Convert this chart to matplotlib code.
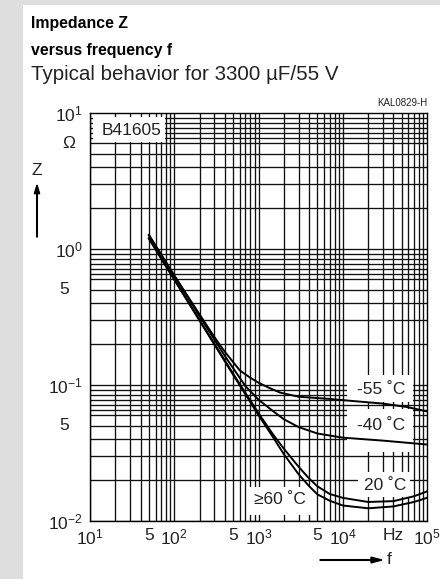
import matplotlib
matplotlib.use("Agg")
import matplotlib.pyplot as plt
from matplotlib.patches import Rectangle, FancyArrow
from matplotlib.ticker import NullLocator, FixedLocator, FixedFormatter

plt.rcParams["font.family"] = ["Liberation Sans", "DejaVu Sans"]
plt.rcParams["mathtext.fontset"] = "custom"
plt.rcParams["mathtext.rm"] = "Liberation Sans"
plt.rcParams["mathtext.it"] = "Liberation Sans"

# Werte (f in Hz, Z in Ohm)
f_m55 = [50, 100, 200, 300, 400, 600, 800, 1000, 1300, 1800, 2300, 3000, 7000, 11000, 30000, 57000, 100000]
z_m55 = [1.27, 0.64, 0.33, 0.225, 0.175, 0.128, 0.113, 0.104, 0.096, 0.088, 0.085, 0.082, 0.079, 0.077,
         0.073, 0.069, 0.064]

f_m40 = [50, 100, 200, 400, 550, 700, 1000, 1500, 2000, 3000, 5000, 10000, 30000, 100000]
z_m40 = [1.26, 0.635, 0.32, 0.163, 0.122, 0.098, 0.078, 0.064, 0.056, 0.049, 0.044, 0.041, 0.039, 0.0365]

f_20 = [50, 100, 200, 500, 1000, 1500, 2000, 3000, 4000, 5000, 7000, 10000, 20000, 40000, 70000, 100000]
z_20 = [1.2, 0.6, 0.3, 0.121, 0.062, 0.043, 0.034, 0.025, 0.0205, 0.018, 0.0158, 0.0148, 0.0138, 0.014,
        0.0152, 0.0165]

f_60 = [50, 100, 200, 500, 1000, 1500, 2000, 3000, 4000, 5000, 7000, 10000, 20000, 40000, 70000, 100000]
z_60 = [1.19, 0.595, 0.297, 0.119, 0.06, 0.041, 0.031, 0.022, 0.018, 0.0157, 0.0141, 0.013, 0.0124, 0.0128,
        0.0138, 0.0148]

xticks = [10, 50, 100, 500, 1000, 5000, 10000, 100000]
xlabels = ["$10^{1}$", "5", "$10^{2}$", "5", "$10^{3}$", "5", "$10^{4}$", "$10^{5}$"]
yticks = [0.01, 0.1, 1, 10]
ylabels = ["$10^{-2}$", "$10^{-1}$", "$10^{0}$", "$10^{1}$"]

W, H = 440, 579
L, R, T, B = 90, 427, 113, 521
TXT = "#222222"


def fx(px):
    return px / W


def fy(py):
    return 1 - py / H


def axx(px):
    return (px - L) / (R - L)


def axy(py):
    return (B - py) / (B - T)


fig = plt.figure(figsize=(W / 100, H / 100), dpi=100)
fig.patch.set_facecolor("#dedede")
fig.patches.append(Rectangle((fx(23), 0), 1, fy(5), transform=fig.transFigure,
                             facecolor="white", edgecolor="none", zorder=-5))

# Titel
fig.text(fx(31), fy(28), "Impedance Z", fontsize=11.4, fontweight="bold", va="baseline")
fig.text(fx(31), fy(55), "versus frequency f", fontsize=11.4, fontweight="bold", va="baseline")
fig.text(fx(31), fy(80), "Typical behavior for 3300 µF/55 V", fontsize=14.8, va="baseline", color=TXT)
fig.text(fx(427), fy(103), "KAL0829-H", fontsize=7, ha="right", va="center", color=TXT)

ax = fig.add_axes([fx(L), fy(B), (R - L) / W, (B - T) / H])
ax.set_facecolor("white")
ax.set_xscale("log")
ax.set_yscale("log")
ax.set_xlim(10, 1e5)
ax.set_ylim(0.01, 10)

# Gitter
for d in range(1, 5):
    for m in range(1, 10):
        ax.axvline(m * 10 ** d, color="#111111", lw=0.95, zorder=1)
for d in range(-2, 1):
    for m in [1, 2, 3, 4, 5, 6, 6.55, 7.13, 7.76, 8.44, 9.19]:
        ax.axhline(m * 10 ** d, color="#111111", lw=0.95, zorder=1)

# weisse Felder fuer Beschriftungen
for x0, y0, x1, y1 in [(93, 117, 165, 142), (347, 375, 413, 402), (347, 409, 413, 452),
                       (358, 472, 410, 497), (247, 487, 313, 515)]:
    ax.add_patch(Rectangle((axx(x0), axy(y1)), axx(x1) - axx(x0), axy(y0) - axy(y1),
                           transform=ax.transAxes, facecolor="white", edgecolor="none", zorder=2))

ax.plot(f_m55, z_m55, color="black", lw=1.4, zorder=3)
ax.plot(f_m40, z_m40, color="black", lw=1.4, zorder=3)
ax.plot(f_20, z_20, color="black", lw=1.4, zorder=3)
ax.plot(f_60, z_60, color="black", lw=1.4, zorder=3)

lab = dict(fontsize=12.5, ha="center", va="center", transform=ax.transAxes, zorder=4, color=TXT)
ax.text(axx(132), axy(130), "B41605", **lab)
ax.text(axx(381), axy(390), "-55 ˚C", **lab)
ax.text(axx(381), axy(426), "-40 ˚C", **lab)
ax.text(axx(385), axy(486), "20 ˚C", **lab)
ax.text(axx(280), axy(500), "≥60 ˚C", **lab)

# Achsen
ax.xaxis.set_minor_locator(NullLocator())
ax.yaxis.set_minor_locator(NullLocator())
ax.xaxis.set_major_locator(FixedLocator(xticks))
ax.xaxis.set_major_formatter(FixedFormatter(xlabels))
ax.yaxis.set_major_locator(FixedLocator(yticks))
ax.yaxis.set_major_formatter(FixedFormatter(ylabels))
ax.tick_params(length=0, labelsize=12.5, colors=TXT)
ax.tick_params(axis="x", pad=5)
ax.tick_params(axis="y", pad=5)
for s in ax.spines.values():
    s.set_linewidth(1.0)
    s.set_zorder(5)

ax.text(axx(64), 0.5, "5", fontsize=12.5, ha="center", va="center",
        transform=ax.get_yaxis_transform(), color=TXT)
ax.text(axx(64), 0.05, "5", fontsize=12.5, ha="center", va="center",
        transform=ax.get_yaxis_transform(), color=TXT)
fig.text(fx(69), fy(143), "Ω", fontsize=12.5, ha="center", va="center", color=TXT)
fig.text(fx(393), fy(535), "Hz", fontsize=12.5, ha="center", va="center", color=TXT)

# Pfeile
fig.text(fx(37), fy(170), "Z", fontsize=12.5, ha="center", va="center", color=TXT)
fig.patches.append(FancyArrow(fx(37), fy(237), 0, fy(185) - fy(237),
                              width=0.0015, head_width=0.012, head_length=0.015,
                              length_includes_head=True, color="black", transform=fig.transFigure))
fig.text(fx(387), fy(560), "f", fontsize=12.5, ha="left", va="center", color=TXT)
fig.patches.append(FancyArrow(fx(320), fy(560), fx(382) - fx(320), 0,
                              width=0.0012, head_width=0.01, head_length=0.025,
                              length_includes_head=True, color="black", transform=fig.transFigure))

fig.savefig("out.png", dpi=100)
